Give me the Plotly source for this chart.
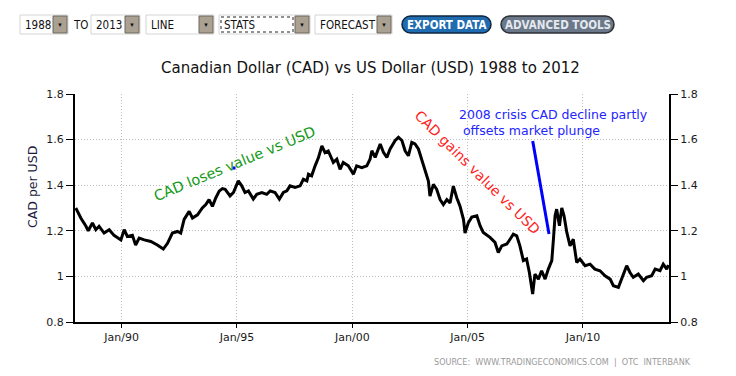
import plotly.graph_objects as go

# ---------------- data ----------------
dates = [
    "1988-01-05", "1988-03-25", "1988-06-15", "1988-07-20", "1988-09-25", "1988-11-18",
    "1989-01-08", "1989-03-28", "1989-06-18", "1989-09-02", "1989-12-20",
    "1990-02-10", "1990-04-01", "1990-06-20", "1990-08-10", "1990-10-05", "1990-12-25",
    "1991-04-08", "1991-07-20", "1991-10-22", "1991-12-28",
    "1992-03-14", "1992-06-02", "1992-07-24", "1992-09-16", "1992-12-05",
    "1993-01-26", "1993-04-16", "1993-07-01", "1993-08-25", "1993-10-16", "1993-12-08",
    "1994-01-30", "1994-03-25", "1994-05-15", "1994-06-28", "1994-09-13", "1994-11-06",
    "1995-01-22", "1995-03-17", "1995-05-08", "1995-07-01", "1995-09-16", "1995-11-10",
    "1996-01-30", "1996-04-16", "1996-06-10", "1996-08-25", "1996-11-02",
    "1997-01-05", "1997-03-01", "1997-04-20", "1997-07-08", "1997-09-27", "1997-11-17",
    "1998-01-12", "1998-02-06", "1998-03-28", "1998-05-22", "1998-07-13", "1998-09-06",
    "1998-10-27", "1998-12-16",
    "1999-03-07", "1999-05-01", "1999-06-21", "1999-08-11", "1999-10-30",
    "2000-01-19", "2000-03-10", "2000-05-30", "2000-08-18", "2000-10-08", "2000-11-06",
    "2000-12-28",
    "2001-03-18", "2001-05-08", "2001-07-01", "2001-08-22", "2001-11-10",
    "2002-01-01", "2002-02-25", "2002-04-16", "2002-06-07", "2002-07-31", "2002-09-20",
    "2002-11-13",
    "2003-01-05", "2003-02-28", "2003-04-20", "2003-05-15", "2003-07-08", "2003-08-29",
    "2003-10-22", "2003-12-13",
    "2004-02-06", "2004-03-28", "2004-05-19", "2004-07-12", "2004-09-02", "2004-10-27",
    "2004-11-20",
    "2005-01-12", "2005-03-07", "2005-05-26", "2005-07-16", "2005-09-05", "2005-12-20",
    "2006-03-10", "2006-05-01", "2006-06-25", "2006-09-13", "2006-11-03", "2006-12-25",
    "2007-02-17", "2007-04-08", "2007-06-02", "2007-07-23", "2007-09-05", "2007-10-27",
    "2007-12-02",
    "2008-01-26", "2008-03-17", "2008-05-11", "2008-07-01", "2008-08-25", "2008-09-20",
    "2008-10-16", "2008-11-10", "2008-12-24",
    "2009-01-30", "2009-03-07", "2009-04-20", "2009-06-10", "2009-07-31", "2009-09-24",
    "2009-11-14",
    "2010-02-03", "2010-04-23", "2010-07-08", "2010-09-27", "2010-12-16",
    "2011-03-07", "2011-04-27", "2011-07-16", "2011-09-05", "2011-11-24",
    "2012-01-15", "2012-03-07", "2012-05-26", "2012-08-15", "2012-10-05", "2012-12-24",
    "2013-02-17", "2013-05-05", "2013-06-25", "2013-08-19", "2013-09-15",
]

cad_per_usd = [
    1.300, 1.256, 1.220, 1.200, 1.234, 1.205,
    1.220, 1.190, 1.205, 1.180, 1.160,
    1.205, 1.175, 1.180, 1.138, 1.168, 1.160,
    1.153, 1.138, 1.120, 1.145,
    1.190, 1.197, 1.190, 1.250, 1.285,
    1.256, 1.270, 1.300, 1.315, 1.337, 1.307,
    1.344, 1.374, 1.385, 1.382, 1.353, 1.368,
    1.419, 1.397, 1.368, 1.375, 1.339, 1.360,
    1.368, 1.360, 1.375, 1.368, 1.339,
    1.368, 1.375, 1.397, 1.390, 1.397, 1.426,
    1.419, 1.448, 1.441, 1.485, 1.520, 1.572,
    1.543, 1.550,
    1.500, 1.514, 1.470, 1.500, 1.485,
    1.448, 1.485, 1.477, 1.485, 1.514, 1.551,
    1.522,
    1.581, 1.544, 1.522, 1.559, 1.596,
    1.610, 1.596, 1.551, 1.529, 1.588, 1.581,
    1.559,
    1.514, 1.463, 1.418, 1.352, 1.404, 1.382,
    1.337, 1.315,
    1.337, 1.322, 1.396, 1.345, 1.308, 1.249,
    1.190,
    1.236, 1.260, 1.266, 1.222, 1.193, 1.171,
    1.149, 1.105, 1.134, 1.142, 1.163, 1.185,
    1.178, 1.134, 1.069, 1.076, 1.017, 0.923,
    1.010,
    0.988, 1.025, 0.988, 1.032, 1.069, 1.163,
    1.266, 1.295, 1.222,
    1.300, 1.266, 1.193, 1.134, 1.163, 1.061,
    1.076,
    1.047, 1.054, 1.032, 1.025, 1.003,
    0.988, 0.959, 0.952, 0.988, 1.047,
    1.017, 0.996, 1.010, 0.981, 0.996, 1.003,
    1.032, 1.025, 1.054, 1.032, 1.050,
]

tick_dates = ["1990-01-01", "1995-01-01", "2000-01-01", "2005-01-01", "2010-01-01"]
tick_labels = ["Jan/90", "Jan/95", "Jan/00", "Jan/05", "Jan/10"]

title_text = "Canadian Dollar (CAD) vs US Dollar (USD) 1988 to 2012"
y_title = "CAD per USD"
note_loses = "CAD loses value vs USD"
note_gains = "CAD gains value vs USD"
note_crisis = "2008 crisis CAD decline partly<br> offsets market plunge"
source_text = "SOURCE:  WWW.TRADINGECONOMICS.COM  |  OTC  INTERBANK"

# ---------------- layout geometry (page pixels) ----------------
# The page body has an 8px margin, so the figure is drawn 8px smaller
# and the plot area is placed in page coordinates.
OFF = 8
W, H = 736 - OFF, 376 - OFF
PL, PR, PT, PB = 75, 669, 94, 322


def px(x):
    return (x - PL) / (PR - PL)


def py(y):
    return (PB - y) / (PB - PT)


def poly(points):
    return "M " + " L ".join("%.5f,%.5f" % (px(a), py(b)) for a, b in points) + " Z"


FONT = "DejaVu Sans"
COND = "DejaVu Sans Condensed, DejaVu Sans"

fig = go.Figure()
fig.add_trace(go.Scatter(x=dates, y=cad_per_usd, mode="lines",
                         line=dict(color="#000000", width=3), hoverinfo="skip",
                         showlegend=False))
fig.add_trace(go.Scatter(x=dates, y=cad_per_usd, mode="lines", yaxis="y2",
                         line=dict(color="rgba(0,0,0,0)", width=0), hoverinfo="skip",
                         showlegend=False))

shapes = []
annotations = []

# white label boxes that interrupt the dotted grid in the reference
for pts in ([(198, 103), (330, 103), (330, 196), (135, 196), (135, 185), (198, 128)],
            [(390, 97), (653, 97), (653, 175), (390, 175)],
            [(130, 237), (410, 237), (410, 269), (130, 269)]):
    shapes.append(dict(type="path", xref="paper", yref="paper", path=poly(pts),
                       fillcolor="#ffffff", line=dict(width=0), layer="between"))

# ---------------- toolbar ----------------
dropdowns = [("1988", 20, 68), ("2013", 91, 140), ("LINE", 146, 214),
             ("STATS", 219, 310), ("FORECAST", 315, 392)]
ty0, ty1 = 15, 34
for label, x0, x1 in dropdowns:
    shapes.append(dict(type="rect", xref="paper", yref="paper",
                       x0=px(x0), x1=px(x1), y0=py(ty1), y1=py(ty0),
                       fillcolor="#ffffff", line=dict(color="#d4d4d4", width=1)))
    if label == "STATS":
        shapes.append(dict(type="rect", xref="paper", yref="paper",
                           x0=px(x0 + 2), x1=px(x1 - 17), y0=py(ty1 - 2), y1=py(ty0 + 2),
                           fillcolor="rgba(0,0,0,0)", line=dict(color="#222", width=1, dash="dot")))
    shapes.append(dict(type="rect", xref="paper", yref="paper",
                       x0=px(x1 - 15), x1=px(x1 - 1), y0=py(ty1 - 1), y1=py(ty0 + 1),
                       fillcolor="#aaa192", line=dict(color="#6f675c", width=1)))
    annotations.append(dict(xref="paper", yref="paper", x=px(x1 - 8), y=py(24.5),
                            text="▼", showarrow=False, font=dict(size=6, color="#111"),
                            xanchor="center", yanchor="middle"))
    annotations.append(dict(xref="paper", yref="paper", x=px(x0 + 3), y=py(24.5),
                            text=label, showarrow=False,
                            font=dict(family=COND, size=11.5, color="#111"),
                            xanchor="left", yanchor="middle"))
annotations.append(dict(xref="paper", yref="paper", x=px(80.5), y=py(24.5), text="TO",
                        showarrow=False, font=dict(family=COND, size=11.5, color="#111"),
                        xanchor="center", yanchor="middle"))


def pill(x0, y0, x1, y1):
    r = (y1 - y0) / 2.0
    ym = (y0 + y1) / 2.0
    k = 0.552 * r

    def P(x, y):
        return "%.5f,%.5f" % (px(x), py(y))
    return ("M " + P(x0 + r, y0) + " L " + P(x1 - r, y0) +
            " C " + P(x1 - r + k, y0) + " " + P(x1, ym - k) + " " + P(x1, ym) +
            " C " + P(x1, ym + k) + " " + P(x1 - r + k, y1) + " " + P(x1 - r, y1) +
            " L " + P(x0 + r, y1) +
            " C " + P(x0 + r - k, y1) + " " + P(x0, ym + k) + " " + P(x0, ym) +
            " C " + P(x0, ym - k) + " " + P(x0 + r - k, y0) + " " + P(x0 + r, y0) + " Z")


buttons = [("EXPORT DATA", 402, 491, "#1f6db0", "#10263f", "#ffffff"),
           ("ADVANCED TOOLS", 501, 614, "#6a7889", "#2b2f36", "#e4e8ee")]
for label, x0, x1, fill, edge, tc in buttons:
    shapes.append(dict(type="path", xref="paper", yref="paper", path=pill(x0, 16, x1, 33),
                       fillcolor=fill, line=dict(color=edge, width=1.5)))
    annotations.append(dict(xref="paper", yref="paper", x=px((x0 + x1) / 2), y=py(24.5),
                            text="<b>" + label + "</b>", showarrow=False,
                            font=dict(family=COND, size=11.5, color=tc),
                            xanchor="center", yanchor="middle"))

# ---------------- titles and notes ----------------
annotations.append(dict(xref="paper", yref="paper", x=px(370), y=py(68), text=title_text,
                        showarrow=False, font=dict(family=FONT, size=15, color="#111"),
                        xanchor="center", yanchor="middle"))
annotations.append(dict(xref="paper", yref="paper", x=px(32), y=py(187), text=y_title,
                        textangle=-90, showarrow=False,
                        font=dict(family=FONT, size=12.5, color="#1a1a40"),
                        xanchor="center", yanchor="middle"))
annotations.append(dict(xref="paper", yref="paper", x=px(234), y=py(164), text=note_loses,
                        textangle=-22.4, showarrow=False,
                        font=dict(family=FONT, size=14.5, color="#159a18"),
                        xanchor="center", yanchor="middle"))
annotations.append(dict(xref="paper", yref="paper", x=px(477), y=py(172), text=note_gains,
                        textangle=44.6, showarrow=False,
                        font=dict(family=FONT, size=14, color="#ff2222"),
                        xanchor="center", yanchor="middle"))
annotations.append(dict(xref="paper", yref="paper", x=px(457), y=py(123), text=note_crisis,
                        showarrow=False, align="left",
                        font=dict(family=FONT, size=12.5, color="#2424ff"),
                        xanchor="left", yanchor="middle"))
annotations.append(dict(xref="paper", yref="paper", x=px(693), y=py(362), text=source_text,
                        showarrow=False, font=dict(family=COND, size=9, color="#9a9a9a"),
                        xanchor="right", yanchor="middle"))

# pointer line from the crisis note and the small anchor square
shapes.append(dict(type="line", xref="paper", yref="paper",
                   x0=px(532.7), y0=py(141), x1=px(549), y1=py(234),
                   line=dict(color="#0000ff", width=3)))
shapes.append(dict(type="rect", xref="paper", yref="paper",
                   x0=px(232.5), x1=px(235.5), y0=py(169.5), y1=py(166.5),
                   fillcolor="#0000ff", line=dict(width=0)))

axis_font = dict(family=FONT, size=11, color="#1a1a1a")
grid = dict(showgrid=True, gridcolor="#bdbdbd", gridwidth=1, griddash="1px,2px")

fig.update_layout(
    width=W, height=H,
    margin=dict(l=PL - OFF, r=(W + OFF) - PR, t=PT - OFF, b=(H + OFF) - PB),
    paper_bgcolor="#ffffff", plot_bgcolor="#ffffff",
    showlegend=False,
    xaxis=dict(type="date", range=["1987-12-24", "2013-09-24"],
               tickvals=tick_dates, ticktext=tick_labels, tickfont=axis_font,
               ticks="outside", ticklen=4, tickcolor="#000", tickwidth=1,
               showline=True, linecolor="#000", linewidth=2, zeroline=False, **grid),
    yaxis=dict(range=[0.8, 1.8], dtick=0.2, tick0=0.8, tickfont=axis_font,
               ticks="outside", ticklen=7, tickcolor="#000", tickwidth=1,
               showline=True, linecolor="#000", linewidth=2, zeroline=False, **grid),
    yaxis2=dict(range=[0.8, 1.8], dtick=0.2, tick0=0.8, tickfont=axis_font,
                overlaying="y", side="right", showgrid=False,
                ticks="outside", ticklen=7, tickcolor="#000", tickwidth=1,
                showline=True, linecolor="#000", linewidth=2, zeroline=False),
    shapes=shapes,
    annotations=annotations,
)

fig.write_html("out.html")
